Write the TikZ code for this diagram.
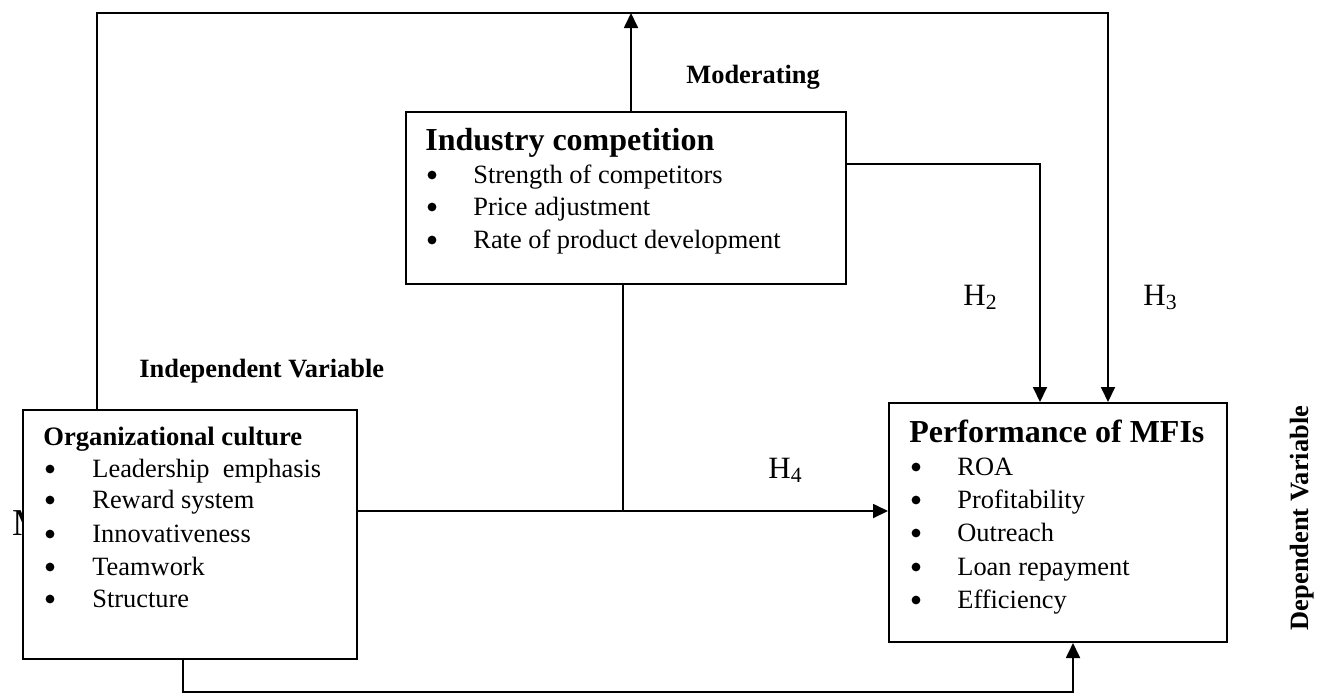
\documentclass[tikz,border=0pt]{standalone}
\usepackage{fontspec}
\setmainfont{Liberation Serif}
\usetikzlibrary{arrows.meta}
\begin{document}
\begin{tikzpicture}[x=0.5pt,y=-0.5pt,
  box/.style={draw, line width=1pt, fill=white, inner sep=0pt, anchor=north west},
  conn/.style={line width=0.9pt},
  arr/.style={conn, -{Triangle[length=7.5pt,width=7pt]}},
  txt/.style={anchor=base west, inner sep=0pt, font=\fontsize{13.2}{15}\selectfont},
  bul/.style={circle, fill=black, inner sep=0pt, minimum size=4.4pt},
  ttl/.style={anchor=base west, inner sep=0pt, font=\fontsize{16}{19}\selectfont\bfseries},
  lbl/.style={anchor=base west, inner sep=0pt, font=\fontsize{13.2}{15}\selectfont\bfseries},
  hyp/.style={anchor=base west, inner sep=0pt, font=\fontsize{15.5}{18}\selectfont}]
\useasboundingbox (0,0) rectangle (1324,693);

% partly hidden letter
\node[anchor=base west, inner sep=0pt, font=\fontsize{19}{22}\selectfont] (mhid) at (12,535) {M};

% boxes
\node[box, minimum width=167pt, minimum height=124.5pt] (org) at (22,409) {};
\node[box, minimum width=220pt, minimum height=86pt] (ind) at (405,111) {};
\node[box, minimum width=169pt, minimum height=119.5pt] (perf) at (888,402) {};

% coordinates for connector routing
\coordinate (topL) at (97,13);
\coordinate (topR) at (1108,13);
\coordinate (modx) at (631,13);
\coordinate (h2r) at (1040,164);
\coordinate (join) at (623,511);
\coordinate (botL) at (183,692);
\coordinate (botR) at (1073,692);

% connectors
\draw[arr] (org.north -| topL) -- (topL) -- (topR) -- (topR |- perf.north);
\draw[arr] (ind.north -| modx) -- (modx);
\draw[arr] (ind.east |- h2r) -- (h2r) -- (h2r |- perf.north);
\draw[conn] (ind.south -| join) -- (join);
\draw[arr] (org.east |- join) -- (perf.west |- join);
\draw[arr] (org.south -| botL) -- (botL) -- (botR) -- (botR |- perf.south);

% labels
\node[lbl] (modlbl) at (686,83) {Moderating};
\node[lbl] (indlbl) at (139,377) {Independent Variable};
\node[rotate=90, inner sep=0pt, font=\fontsize{13.2}{15}\selectfont\bfseries] (deplbl) at (1302,518) {Dependent Variable};
\node[hyp] (h2) at (963,305) {H\textsubscript{2}};
\node[hyp] (h3) at (1143,305) {H\textsubscript{3}};
\node[hyp] (h4) at (768,478) {H\textsubscript{4}};

% industry competition content
\node[ttl] (indt) at (425,150) {Industry competition};
\foreach \y/\t [count=\i] in {183/Strength of competitors,215/Price adjustment,248/Rate of product development}{
  \node[bul] (indb\i) at (432,\y-8) {};
  \node[txt] (indi\i) at (473,\y) {\t};
}

% organizational culture content
\node[anchor=base west, inner sep=0pt, font=\fontsize{13.3}{15}\selectfont\bfseries] (orgt) at (43,445) {Organizational culture};
\foreach \y/\t [count=\i] in {477/Leadership\ \ emphasis,508/Reward system,542/Innovativeness,575/Teamwork,607/Structure}{
  \node[bul] (orgb\i) at (50,\y-8) {};
  \node[txt] (orgi\i) at (92,\y) {\t};
}

% performance content
\node[ttl] (perft) at (909,442) {Performance of MFIs};
\foreach \y/\t [count=\i] in {475/ROA,508/Profitability,541/Outreach,575/Loan repayment,608/Efficiency}{
  \node[bul] (perfb\i) at (916,\y-8) {};
  \node[txt] (perfi\i) at (957,\y) {\t};
}
\end{tikzpicture}
\end{document}
